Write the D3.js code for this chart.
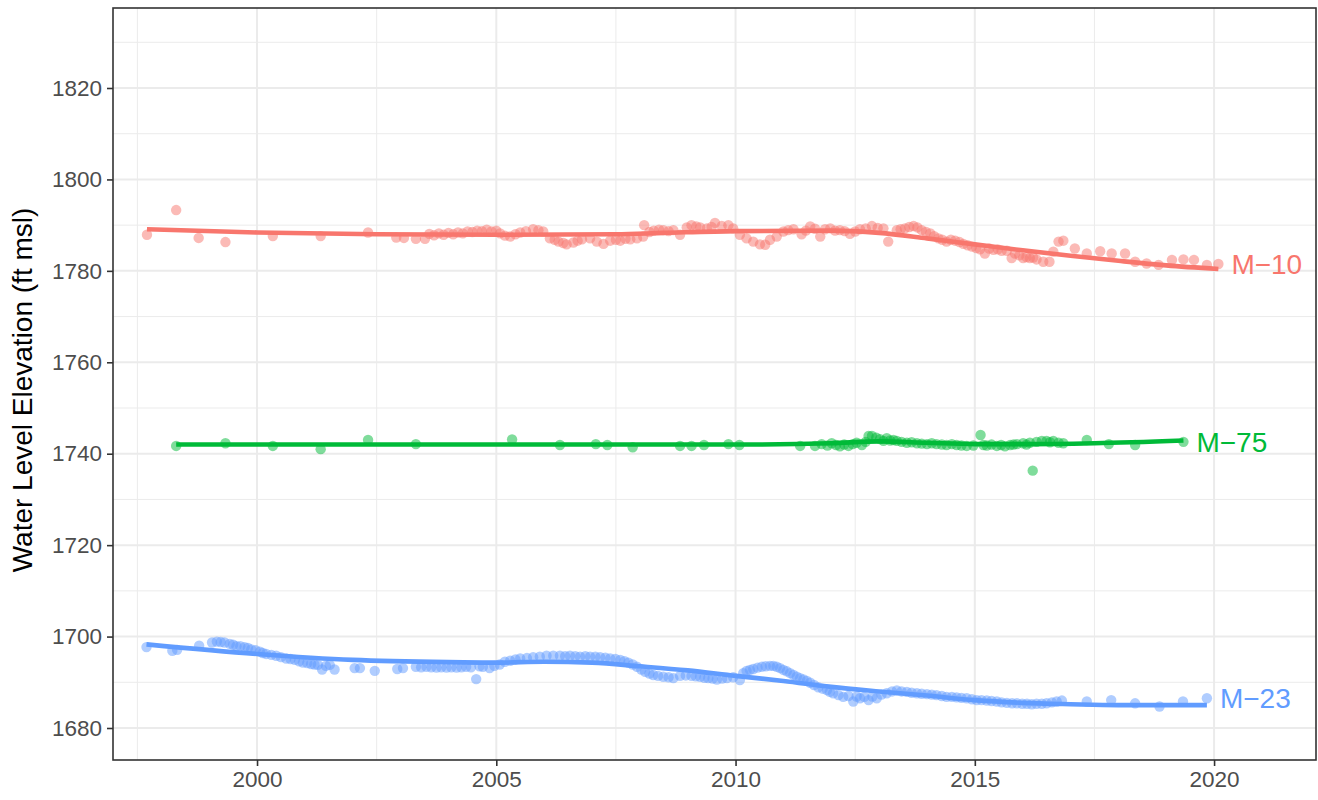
<!DOCTYPE html>
<html>
<head>
<meta charset="utf-8">
<script src="https://cdn.jsdelivr.net/npm/d3@7"></script>
<style>
  html, body { margin: 0; padding: 0; background: #ffffff; }
  svg { display: block; font-family: "Liberation Sans", Arial, Helvetica, sans-serif; }
</style>
</head>
<body>
<svg id="chart" width="1318" height="800"></svg>
<script>
// Well water-level observations: [decimal year, elevation in ft msl]
const m10 = [
  [1997.70,1787.9],[1998.31,1793.3],[1998.78,1787.2],[1999.34,1786.3],[2000.33,1787.6],[2001.33,1787.6],
  [2002.32,1788.4],[2002.91,1787.3],[2003.07,1787.2],[2003.32,1787.0],[2003.51,1787.0],
  [2003.60,1788.1],[2003.70,1787.8],[2003.80,1788.2],[2003.90,1787.9],[2004.00,1788.3],[2004.10,1788.0],
  [2004.20,1788.4],[2004.30,1788.2],[2004.40,1788.6],[2004.50,1788.5],[2004.60,1788.8],[2004.70,1788.7],
  [2004.80,1789.0],[2004.90,1788.6],[2005.00,1788.8],[2005.08,1788.2],[2005.18,1787.7],[2005.29,1787.5],
  [2005.40,1788.0],[2005.50,1788.4],[2005.62,1788.7],[2005.77,1789.1],[2005.88,1788.9],[2005.98,1788.6],
  [2006.12,1787.1],[2006.22,1786.8],[2006.30,1786.4],[2006.40,1786.1],[2006.47,1785.8],[2006.61,1786.2],
  [2006.70,1786.6],[2006.79,1786.9],[2006.96,1787.1],[2007.10,1786.4],[2007.24,1785.9],[2007.38,1786.6],
  [2007.50,1786.8],[2007.59,1786.6],[2007.70,1787.0],[2007.80,1786.9],[2007.94,1787.1],[2008.07,1787.5],
  [2008.09,1790.0],[2008.20,1788.5],[2008.29,1788.8],[2008.40,1789.0],[2008.49,1788.9],[2008.60,1788.7],
  [2008.70,1788.9],[2008.84,1787.9],[2008.98,1789.5],[2009.08,1790.0],[2009.18,1789.7],[2009.26,1789.5],
  [2009.40,1789.3],[2009.50,1789.6],[2009.57,1790.5],[2009.71,1789.8],[2009.85,1790.0],[2009.95,1789.3],
  [2010.09,1787.9],[2010.23,1787.1],[2010.37,1786.4],[2010.51,1785.8],[2010.62,1785.7],[2010.72,1786.8],
  [2010.86,1787.5],[2011.00,1788.6],[2011.10,1788.9],[2011.21,1789.1],[2011.38,1788.0],[2011.47,1788.8],
  [2011.56,1789.7],[2011.66,1789.2],[2011.77,1787.5],[2011.87,1789.1],[2011.98,1789.3],[2012.08,1788.8],
  [2012.18,1788.9],[2012.28,1788.7],[2012.39,1788.1],[2012.50,1788.6],[2012.60,1789.1],[2012.72,1789.3],
  [2012.85,1789.8],[2012.97,1789.4],[2013.09,1789.3],[2013.19,1786.4],[2013.37,1788.9],[2013.45,1789.1],
  [2013.54,1789.3],[2013.63,1789.6],[2013.72,1789.8],[2013.80,1789.5],[2013.89,1788.9],[2013.98,1788.5],
  [2014.07,1788.2],[2014.15,1787.6],[2014.24,1787.1],[2014.32,1786.8],[2014.41,1786.4],[2014.50,1786.8],
  [2014.59,1786.6],[2014.68,1786.3],[2014.76,1785.9],[2014.85,1785.6],[2014.94,1785.3],[2015.03,1785.0],
  [2015.11,1784.7],[2015.21,1783.8],[2015.30,1784.9],[2015.39,1784.6],[2015.48,1784.7],[2015.56,1784.4],
  [2015.67,1784.4],[2015.77,1782.8],[2015.84,1783.8],[2015.93,1783.4],[2016.01,1782.8],[2016.08,1783.0],
  [2016.15,1782.8],[2016.22,1782.9],[2016.29,1782.5],[2016.43,1782.0],[2016.56,1782.0],[2016.64,1784.2],
  [2016.75,1786.4],[2016.85,1786.6],[2017.09,1784.9],[2017.34,1783.8],[2017.62,1784.3],[2017.86,1783.8],
  [2018.14,1783.8],[2018.35,1782.0],[2018.59,1781.6],[2018.84,1781.3],[2019.12,1782.4],[2019.36,1782.5],
  [2019.58,1782.4],[2019.85,1781.3],[2020.09,1781.5]
];

const m75 = [
  [1998.31,1741.7],[1999.34,1742.3],[2000.33,1741.7],[2001.33,1741.0],[2002.32,1743.0],[2003.32,1742.1],
  [2005.33,1743.1],[2006.33,1741.9],[2007.08,1742.1],[2007.32,1741.9],[2007.85,1741.4],[2008.84,1741.7],
  [2009.08,1741.7],[2009.34,1741.9],[2009.85,1742.1],[2010.08,1741.9],[2011.35,1741.7],[2011.66,1741.7],
  [2011.80,1742.1],[2011.92,1741.8],[2012.01,1742.3],[2012.10,1741.9],[2012.18,1741.6],[2012.27,1742.0],
  [2012.36,1741.7],[2012.45,1742.1],[2012.53,1742.4],[2012.64,1741.9],[2012.72,1742.6],[2012.78,1743.9],
  [2012.85,1743.9],[2012.94,1743.5],[2013.02,1743.2],[2013.09,1742.8],[2013.16,1743.4],[2013.23,1742.9],
  [2013.30,1743.0],[2013.37,1742.8],[2013.47,1742.6],[2013.58,1742.4],[2013.68,1742.5],[2013.79,1742.3],
  [2013.89,1742.2],[2014.00,1742.1],[2014.10,1742.3],[2014.20,1742.1],[2014.31,1742.0],[2014.41,1741.9],
  [2014.52,1742.1],[2014.62,1741.9],[2014.72,1741.8],[2014.83,1741.7],[2014.97,1741.8],[2015.12,1744.1],
  [2015.18,1741.9],[2015.25,1741.8],[2015.35,1742.0],[2015.46,1741.7],[2015.55,1741.9],[2015.63,1741.6],
  [2015.74,1741.9],[2015.81,1742.0],[2015.88,1742.1],[2016.01,1742.3],[2016.08,1742.0],[2016.15,1742.4],
  [2016.21,1736.3],[2016.29,1742.6],[2016.40,1742.8],[2016.50,1742.8],[2016.57,1742.5],[2016.64,1742.8],
  [2016.75,1742.4],[2016.85,1742.3],[2017.34,1743.0],[2017.80,1742.1],[2018.35,1741.9],[2019.36,1742.6]
];

const m23 = [
  [1997.69,1697.7],[1998.23,1696.9],[1998.33,1697.1],[1998.79,1698.0],[1999.06,1698.7],[1999.16,1698.9],
  [1999.24,1698.8],[1999.32,1698.7],[1999.43,1698.4],[1999.50,1698.2],[1999.57,1697.9],[1999.65,1697.9],
  [1999.74,1697.7],[1999.81,1697.5],[1999.88,1697.2],[1999.97,1697.0],[2000.06,1696.7],[2000.12,1696.4],
  [2000.19,1696.2],[2000.30,1696.0],[2000.40,1695.8],[2000.50,1695.5],[2000.61,1695.2],[2000.70,1695.1],
  [2000.79,1694.9],[2000.88,1694.6],[2000.96,1694.3],[2001.05,1694.2],[2001.13,1694.0],[2001.20,1693.9],
  [2001.27,1693.8],[2001.36,1692.8],[2001.44,1693.6],[2001.52,1693.8],[2001.62,1692.8],[2002.04,1693.1],
  [2002.15,1693.1],[2002.46,1692.5],[2002.93,1692.9],[2003.05,1693.1],[2003.32,1693.4],[2003.43,1693.3],
  [2003.54,1693.4],[2003.64,1693.3],[2003.75,1693.2],[2003.85,1693.3],[2003.96,1693.2],[2004.06,1693.3],
  [2004.17,1693.2],[2004.27,1693.3],[2004.37,1693.4],[2004.47,1693.3],[2004.58,1690.7],[2004.65,1693.5],
  [2004.72,1693.4],[2004.86,1693.1],[2004.96,1693.6],[2005.07,1693.9],[2005.18,1694.5],[2005.29,1694.7],
  [2005.40,1695.0],[2005.50,1695.2],[2005.64,1695.3],[2005.77,1695.5],[2005.91,1695.6],[2006.05,1695.8],
  [2006.19,1695.8],[2006.33,1695.8],[2006.44,1695.7],[2006.54,1695.8],[2006.65,1695.7],[2006.75,1695.6],
  [2006.86,1695.7],[2006.96,1695.6],[2007.07,1695.6],[2007.17,1695.5],[2007.28,1695.4],[2007.38,1695.2],
  [2007.49,1695.1],[2007.59,1694.9],[2007.68,1694.6],[2007.76,1694.3],[2007.85,1693.9],[2007.94,1693.4],
  [2008.03,1692.8],[2008.11,1692.3],[2008.20,1691.9],[2008.28,1691.6],[2008.38,1691.4],[2008.49,1691.2],
  [2008.60,1691.1],[2008.70,1690.9],[2008.84,1691.4],[2008.96,1691.5],[2009.08,1691.4],[2009.17,1691.3],
  [2009.26,1691.2],[2009.35,1691.0],[2009.43,1690.9],[2009.52,1690.8],[2009.61,1690.6],[2009.72,1690.8],
  [2009.82,1690.9],[2009.95,1691.1],[2010.09,1690.5],[2010.16,1692.0],[2010.23,1692.5],[2010.30,1692.7],
  [2010.37,1692.9],[2010.46,1693.2],[2010.55,1693.4],[2010.63,1693.5],[2010.72,1693.6],[2010.79,1693.6],
  [2010.86,1693.4],[2010.93,1693.1],[2011.00,1692.7],[2011.07,1692.4],[2011.14,1692.0],[2011.21,1691.6],
  [2011.28,1691.2],[2011.35,1690.9],[2011.42,1690.6],[2011.49,1690.3],[2011.56,1689.9],[2011.64,1689.4],
  [2011.73,1688.9],[2011.82,1688.6],[2011.91,1688.3],[2011.97,1687.9],[2012.04,1687.6],[2012.15,1687.2],
  [2012.25,1686.8],[2012.36,1687.0],[2012.46,1685.8],[2012.53,1686.9],[2012.60,1686.5],[2012.69,1686.8],
  [2012.78,1686.1],[2012.86,1686.9],[2012.95,1686.5],[2013.05,1687.3],[2013.16,1687.6],[2013.27,1688.0],
  [2013.37,1688.2],[2013.47,1688.0],[2013.58,1687.9],[2013.68,1687.7],[2013.79,1687.6],[2013.89,1687.5],
  [2014.00,1687.4],[2014.10,1687.3],[2014.20,1687.2],[2014.31,1687.0],[2014.41,1686.8],[2014.52,1686.8],
  [2014.62,1686.7],[2014.72,1686.6],[2014.83,1686.5],[2014.94,1686.3],[2015.04,1686.1],[2015.14,1686.1],
  [2015.25,1686.0],[2015.35,1685.9],[2015.46,1685.8],[2015.56,1685.6],[2015.67,1685.5],[2015.78,1685.4],
  [2015.88,1685.4],[2015.99,1685.3],[2016.09,1685.3],[2016.19,1685.2],[2016.29,1685.3],[2016.40,1685.3],
  [2016.50,1685.4],[2016.61,1685.6],[2016.71,1685.8],[2016.82,1686.0],[2017.34,1685.8],[2017.85,1686.1],
  [2018.35,1685.4],[2018.86,1684.7],[2019.35,1685.8],[2019.85,1686.5]
];

// Smoothed trend through each well's record
const m10Trend = [
  [1997.70,1789.1],[2000,1788.4],[2002.5,1788.0],[2005,1787.9],[2007.5,1788.0],[2008.5,1788.3],
  [2010,1788.7],[2012,1788.8],[2013,1788.3],[2014,1787.1],[2015,1785.8],[2016,1784.5],[2017,1783.3],
  [2018,1782.2],[2019,1781.2],[2020.09,1780.4]
];
const m75Trend = [
  [1998.31,1742.0],[2002,1742.0],[2006,1742.0],[2010,1742.0],[2012,1742.3],[2013,1742.7],
  [2014,1742.4],[2015,1742.1],[2016,1742.1],[2017.5,1742.3],[2019.36,1742.9]
];
const m23Trend = [
  [1997.69,1698.3],[2000,1696.2],[2002,1694.9],[2004,1694.4],[2005,1694.3],[2006,1694.5],
  [2007,1694.3],[2008,1693.5],[2009,1692.6],[2010,1691.4],[2011,1690.3],[2012,1689.0],[2013,1688.0],
  [2014,1687.1],[2015,1686.1],[2016,1685.5],[2017,1685.2],[2018,1685.0],[2019.85,1685.0]
];

const wellNames = ["M\u221210", "M\u221223", "M\u221275"];
const wellColors = ["#F8766D", "#619CFF", "#00BA38"];

const xTicks = [2000, 2005, 2010, 2015, 2020];
const xMinor = [1997.5, 2002.5, 2007.5, 2012.5, 2017.5];
const yTicks = [1680, 1700, 1720, 1740, 1760, 1780, 1800, 1820];
const yMinor = [1690, 1710, 1730, 1750, 1770, 1790, 1810, 1830];

const yTitle = "Water Level Elevation (ft msl)";

// ---- layout ----
const panel = { left: 113, right: 1316, top: 8, bottom: 760 };

const svg = d3.select("#chart");
svg.append("rect").attr("width", 1318).attr("height", 800).attr("fill", "#ffffff");

const x = d3.scaleLinear().domain([1996.99, 2022.13]).range([panel.left, panel.right]);
const y = d3.scaleLinear().domain([1673.0, 1837.5]).range([panel.bottom, panel.top]);

const clipId = "panel-clip";
svg.append("clipPath").attr("id", clipId)
  .append("rect")
  .attr("x", panel.left).attr("y", panel.top)
  .attr("width", panel.right - panel.left).attr("height", panel.bottom - panel.top);

// grid
const grid = svg.append("g");
grid.selectAll("line.ymin").data(yMinor).join("line")
  .attr("x1", panel.left).attr("x2", panel.right)
  .attr("y1", d => y(d)).attr("y2", d => y(d))
  .attr("stroke", "#ebebeb").attr("stroke-width", 1);
grid.selectAll("line.xmin").data(xMinor).join("line")
  .attr("y1", panel.top).attr("y2", panel.bottom)
  .attr("x1", d => x(d)).attr("x2", d => x(d))
  .attr("stroke", "#ebebeb").attr("stroke-width", 1);
grid.selectAll("line.ymaj").data(yTicks).join("line")
  .attr("x1", panel.left).attr("x2", panel.right)
  .attr("y1", d => y(d)).attr("y2", d => y(d))
  .attr("stroke", "#ebebeb").attr("stroke-width", 2);
grid.selectAll("line.xmaj").data(xTicks).join("line")
  .attr("y1", panel.top).attr("y2", panel.bottom)
  .attr("x1", d => x(d)).attr("x2", d => x(d))
  .attr("stroke", "#ebebeb").attr("stroke-width", 2);

// data layers
const wells = [
  { name: wellNames[0], color: wellColors[0], pts: m10, trend: m10Trend },
  { name: wellNames[1], color: wellColors[1], pts: m23, trend: m23Trend },
  { name: wellNames[2], color: wellColors[2], pts: m75, trend: m75Trend }
];

const plot = svg.append("g").attr("clip-path", `url(#${clipId})`);

wells.forEach(w => {
  plot.append("g").selectAll("circle").data(w.pts).join("circle")
    .attr("cx", d => x(d[0])).attr("cy", d => y(d[1]))
    .attr("r", 5.2)
    .attr("fill", w.color).attr("fill-opacity", 0.5);
});

const line = d3.line().x(d => x(d[0])).y(d => y(d[1])).curve(d3.curveMonotoneX);
wells.forEach(w => {
  plot.append("path").datum(w.trend)
    .attr("d", line)
    .attr("fill", "none")
    .attr("stroke", w.color)
    .attr("stroke-width", 4.6);
});

// labels at each well's latest reading
wells.forEach(w => {
  const last = w.pts[w.pts.length - 1];
  svg.append("text")
    .attr("x", x(last[0]) + 13)
    .attr("y", y(last[1]))
    .attr("dy", "0.35em")
    .attr("fill", w.color)
    .attr("font-size", 28)
    .text(w.name);
});

// panel border
svg.append("rect")
  .attr("x", panel.left).attr("y", panel.top)
  .attr("width", panel.right - panel.left).attr("height", panel.bottom - panel.top)
  .attr("fill", "none").attr("stroke", "#333333").attr("stroke-width", 1.6);

// axes
const xAxis = d3.axisBottom(x).tickValues(xTicks).tickFormat(d3.format("d")).tickSize(6).tickPadding(5);
const yAxis = d3.axisLeft(y).tickValues(yTicks).tickFormat(d3.format("d")).tickSize(6).tickPadding(5);

const gx = svg.append("g").attr("transform", `translate(0,${panel.bottom})`).call(xAxis);
const gy = svg.append("g").attr("transform", `translate(${panel.left},0)`).call(yAxis);
[gx, gy].forEach(g => {
  g.select(".domain").remove();
  g.selectAll(".tick line").attr("stroke", "#333333").attr("stroke-width", 1.6);
  g.selectAll(".tick text").attr("fill", "#4d4d4d").attr("font-size", 22.5)
    .attr("font-family", "'Liberation Sans', Arial, Helvetica, sans-serif");
});

// y-axis title
svg.append("text")
  .attr("transform", `translate(32,${(panel.top + panel.bottom) / 2 + 6}) rotate(-90)`)
  .attr("text-anchor", "middle")
  .attr("fill", "#000000")
  .attr("font-size", 28)
  .text(yTitle);
</script>
</body>
</html>
